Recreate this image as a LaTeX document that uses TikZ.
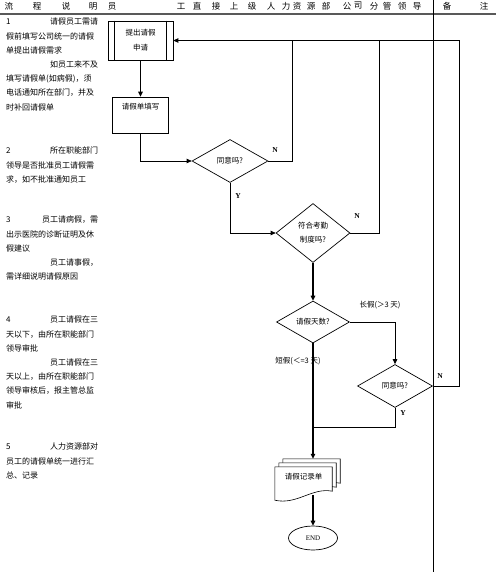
\documentclass[tikz,border=0pt]{standalone}
\usepackage{fontspec}
\setmainfont{Noto Sans CJK SC}
\newfontfamily\latfont{Liberation Serif}
\usetikzlibrary{arrows.meta,shapes.geometric,calc}

\begin{document}
\begin{tikzpicture}[x=1pt,y=-1pt,
  flow/.style={line width=0.7pt},
  tip/.style={-{Triangle[length=5pt,width=4.5pt]}},
  boldflow/.style={line width=1.4pt,-{Triangle[length=5pt,width=4.5pt]}},
  procbox/.style={draw, line width=0.7pt, inner sep=3pt, font=\fontsize{7.5}{15}\selectfont, align=center},
  choice/.style={draw, diamond, aspect=1.7, line width=0.7pt, inner sep=0pt, font=\fontsize{7.5}{14}\selectfont, align=center},
  yn/.style={font=\latfont\bfseries\fontsize{7.5}{8}\selectfont},
  note/.style={anchor=north west, text width=92pt, align=left, inner sep=0pt, font=\fontsize{8}{14.2}\selectfont},
  lbl/.style={font=\fontsize{7.5}{8}\selectfont}]
  \useasboundingbox (0,0) rectangle (500,572);
  % Header row
  \foreach \hx/\hc in {9/流,37/程,66/说,93/明,112/员,181/工,197/直,216/接,234/上,252/级,271/人,286/力,297/资,311/源,326/部,347/公,358/司,374/分,387/管,402/领,417/导,447/备,484/注}
    \node[font=\fontsize{8.5}{9}\selectfont, inner sep=0pt] (head\hx) at (\hx,6) {\hc};
  \draw[black!65, line width=1.6pt] (0,14) -- (496,14);
  \draw[line width=0.8pt] (433,0) -- (433,572);
  % Left column: notes
  \node[note] (note1) at (6,18) {1\hfill 请假员工需请\\
    假前填写公司统一的请假\\
    单提出请假需求\\
    \hspace*{\fill}如员工来不及\\
    填写请假单(如病假)，须\\
    电话通知所在部门，并及\\
    时补回请假单};
  \node[note] (note2) at (6,147) {2\hfill 所在职能部门\\
    领导是否批准员工请假需\\
    求，如不批准通知员工};
  \node[note] (note3) at (6,216) {3\hfill 员工请病假，需\\
    出示医院的诊断证明及休\\
    假建议\\
    \hspace*{\fill}员工请事假，\\
    需详细说明请假原因};
  \node[note] (note4) at (6,316) {4\hfill 员工请假在三\\
    天以下，由所在职能部门\\
    领导审批\\
    \hspace*{\fill}员工请假在三\\
    天以上，由所在职能部门\\
    领导审核后，报主管总监\\
    审批};
  \node[note] (note5) at (6,443) {5\hfill 人力资源部对\\
    员工的请假单统一进行汇\\
    总、记录};
  % Flow: boxes and decisions
  \node[procbox, minimum width=65pt, minimum height=39pt] (apply) at (140.5,40.5) {提出请假\\申请};
  \draw[line width=0.7pt] ([xshift=7pt]apply.north west) -- ([xshift=7pt]apply.south west);
  \draw[line width=0.7pt] ([xshift=-7pt]apply.north east) -- ([xshift=-7pt]apply.south east);
  \node[procbox, minimum width=56pt, text height=10pt, text depth=20pt] (fillin) at (140.5,115) {请假单填写};
  \node[choice, minimum width=76pt, minimum height=43pt] (agree1) at (230,161) {同意吗?};
  \node[choice, minimum width=74pt, minimum height=59pt] (rule) at (313,233) {符合考勤\\制度吗?};
  \node[choice, minimum width=73pt, minimum height=42pt] (days) at (313,322) {请假天数?};
  \node[choice, minimum width=75pt, minimum height=43pt] (agree2) at (395,386) {同意吗?};
  % Record sheets and end
  \node[minimum width=57pt, minimum height=20pt, inner sep=0pt] (record) at (303.5,477) {};
  \foreach \s in {8,4,0}
    \draw[line width=0.6pt, fill=white] ([shift={(\s,-\s)}]record.north west) -- ([shift={(\s,-\s)}]record.north east)
      -- ([shift={(\s,4-\s)}]record.south east)
      .. controls ([shift={(\s-20,0-\s)}]record.south east) and ([shift={(\s+22,18-\s)}]record.south west)
      .. ([shift={(\s,13-\s)}]record.south west) -- cycle;
  \node[lbl, inner sep=0pt] (recordtext) at (record.center) {请假记录单};
  \node[draw, ellipse, line width=0.7pt, minimum width=49pt, minimum height=24pt, inner sep=0pt, font=\latfont\fontsize{7}{8}\selectfont] (finish) at (313,538) {END};
  % Return points
  \coordinate (n1) at (292,40.5);
  \coordinate (n2) at (379,40.5);
  \coordinate (ret) at (459,40.5);
  \coordinate (join) at (313,427);
  % Connectors
  \draw[boldflow] (apply.south) -- (fillin.north);
  \draw[flow, tip] (fillin.south) |- (agree1.west);
  \draw[flow] (agree1.east) -| (n1);
  \draw[flow, tip] (agree1.south) |- (rule.west);
  \draw[flow] (rule.east) -| (n2);
  \draw[boldflow] (rule.south) -- (days.north);
  \draw[flow, line width=1pt, tip] (days.east) -| (agree2.north);
  \draw[boldflow] (days.south) -- ($(days.south |- record.north)+(0,-8)$);
  \draw[flow] (agree2.south) |- (join);
  \draw[flow] (agree2.east) -| (ret);
  \draw[flow, line width=1pt, tip] (ret) -- (apply.east);
  \draw[boldflow] ($(finish.north |- record.south)+(0,8)$) -- (finish.north);
  % Branch labels
  \node[yn] (no1) at (275,150) {N};
  \node[yn] (yes1) at (238,196) {Y};
  \node[yn] (no2) at (357,216) {N};
  \node[yn] (no3) at (440,376) {N};
  \node[yn] (yes2) at (403,413) {Y};
  \node[lbl] (longleave) at (380,305) {长假(＞3 天)};
  \node[lbl] (shortleave) at (298,361) {短假(＜=3 天)};
\end{tikzpicture}
\end{document}
